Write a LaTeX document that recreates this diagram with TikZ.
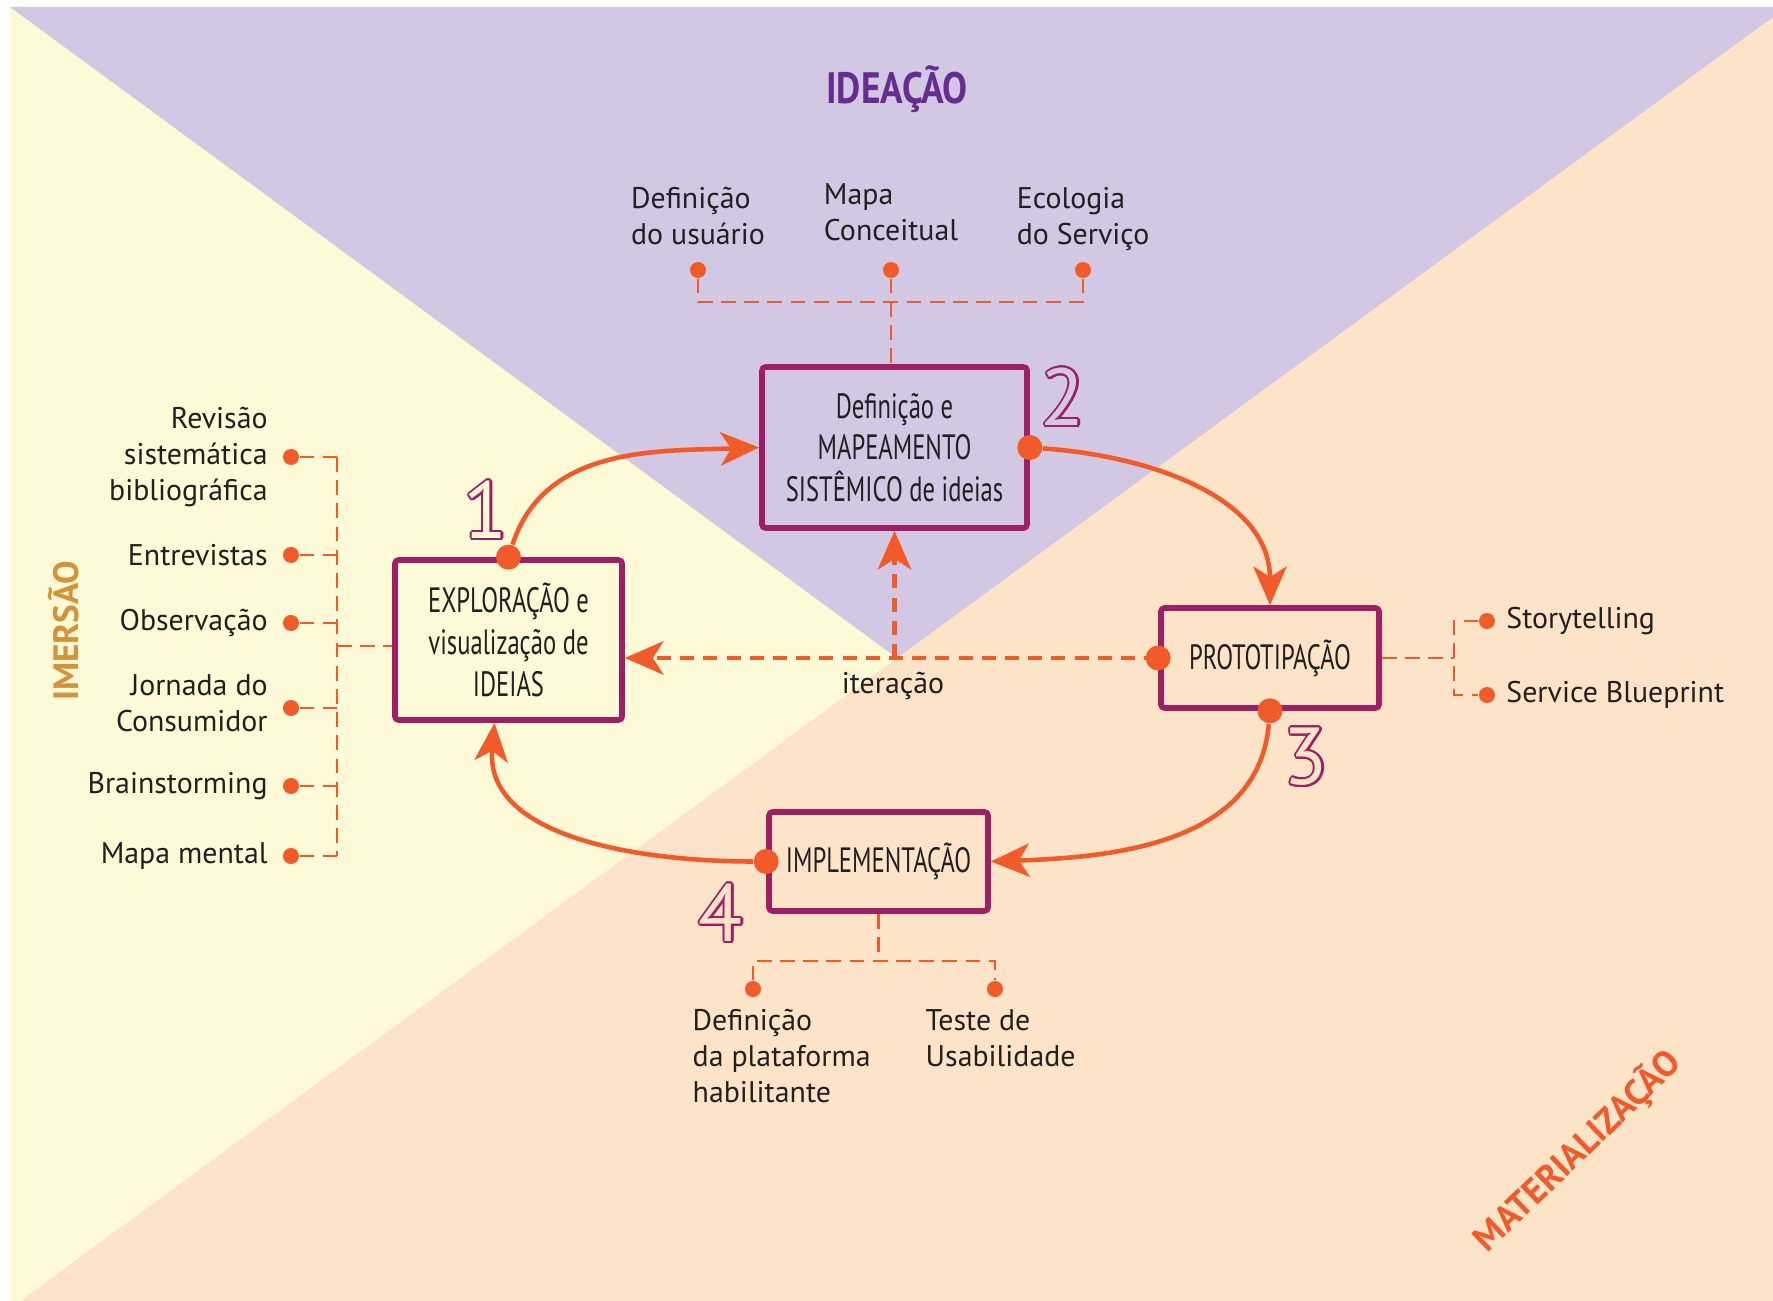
\documentclass[tikz,border=0pt]{standalone}
\usepackage{fontspec}
\setmainfont{PT Sans}
\newfontfamily\narrowfont[FakeStretch=0.7]{PT Sans}
\newfontfamily\titlefont[FakeStretch=0.85]{PT Sans}
\usepackage{contour}
\usetikzlibrary{arrows.meta,positioning}
\definecolor{ideabg}{HTML}{D3C8E3}
\definecolor{imerbg}{HTML}{FEF9D7}
\definecolor{matbg}{HTML}{FDE4C9}
\definecolor{flow}{HTML}{F15A29}
\definecolor{frame}{HTML}{9E1F63}
\definecolor{ideac}{HTML}{662D91}
\definecolor{imerc}{HTML}{D4933B}
\definecolor{ink}{HTML}{231F20}
\contourlength{0.6pt}

\begin{document}
\begin{tikzpicture}[x=0.1mm,y=-0.1mm,>={Stealth[length=11pt,width=9.5pt,inset=3pt]},
stage/.style={draw=frame,line width=1.6pt,rounded corners=1pt,align=center,text=ink,
font=\narrowfont\fontsize{10}{11.9}\selectfont,inner sep=0pt},
hub/.style={circle,fill=flow,minimum size=2.5mm,inner sep=0pt},
dot/.style={circle,fill=flow,minimum size=1.6mm,inner sep=0pt},
item/.style={text=ink,font=\fontsize{8.5}{10.2}\selectfont,inner sep=0pt},
flowline/.style={draw=flow,line width=1.3pt},
iter/.style={flowline,dash pattern=on 4pt off 2.6pt},
link/.style={draw=flow,line width=0.6pt,dash pattern=on 4.2pt off 2.4pt},
num/.style={font=\fontsize{23}{23}\selectfont,inner sep=0pt}]
\useasboundingbox (0,0) rectangle (1773,1301);
% fases
\fill[matbg] (10,7) rectangle (1773,1301);
\fill[imerbg] (10,7) -- (897,658) -- (20,1301) -- (10,1301) -- cycle;
\fill[ideabg] (10,7) -- (1773,7) -- (1773,17) -- (897,658) -- cycle;
\node[text=ideac,font=\titlefont\bfseries\fontsize{12.5}{13}\selectfont] (ideacao) at (897,89) {IDEAÇÃO};
\node[text=imerc,rotate=90,font=\bfseries\fontsize{10}{12}\selectfont] (imersao) at (64,631) {IMERSÃO};
\node[text=flow,rotate=44,font=\bfseries\fontsize{10.2}{12}\selectfont] (materializacao) at (1577,1151) {MATERIALIZAÇÃO};

% etapas
\node[stage,minimum width=22.7mm,minimum height=16mm] (b1) at (508.5,640) {EXPLORAÇÃO e\\visualização de\\IDEIAS};
\node[stage,minimum width=26.5mm,minimum height=16.1mm] (b2) at (894.5,447.5) {Definição e\\MAPEAMENTO\\SISTÊMICO de ideias};
\node[stage,minimum width=21.8mm,minimum height=10mm] (b3) at (1270,658) {PROTOTIPAÇÃO};
\node[stage,minimum width=21.9mm,minimum height=9.9mm] (b4) at (878.5,861.5) {IMPLEMENTAÇÃO};
\node[num] (n1) at (486,511) {\contour{frame}{\textcolor{imerbg}{1}}};
\node[num] (n2) at (1063,398) {\contour{frame}{\textcolor{ideabg}{2}}};
\node[num] (n3) at (1306,758) {\contour{frame}{\textcolor{matbg}{3}}};
\node[num] (n4) at (721,914) {\contour{frame}{\textcolor{matbg}{4}}};

% ciclo
\draw[iter,->] (b3.west) -- (b1.east |- b3.west);
\draw[iter,->] (b2.south |- b3.west) -- (b2.south);
\node[item] (iteracao) at (893,686) {iteração};
\node[hub] (h1) at (b1.north) {};
\node[hub] (h2) at (b2.east) {};
\node[hub] (h3) at (b3.west) {};
\node[hub] (h3b) at (b3.south) {};
\node[hub] (h4) at (b4.west) {};
\draw[flowline,->] (h1) to[out=72,in=182] (b2.west);
\draw[flowline,->] (h2) to[out=-4,in=90] (b3.north);
\draw[flowline,->] (h3b) to[out=-95,in=2] (b4.east);
\draw[flowline,->] (h4) to[out=180,in=-95] ([xshift=-1.4mm]b1.south);

% imersao
\node[dot] (r1) at (291,457) {};
\node[dot] (r2) at (291,555) {};
\node[dot] (r3) at (291,623) {};
\node[dot] (r4) at (291,708) {};
\node[dot] (r5) at (291,786) {};
\node[dot] (r6) at (291,856) {};
\node[item,align=right,left=1.4mm of r1] (rev) {Revisão\\sistemática\\bibliográfica};
\node[item,left=1.4mm of r2] (ent) {Entrevistas};
\node[item,left=1.4mm of r3] (obs) {Observação};
\node[item,align=right,left=1.4mm of r4,yshift=0.5mm] (jor) {Jornada do\\Consumidor};
\node[item,left=1.4mm of r5] (bra) {Brainstorming};
\node[item,left=1.4mm of r6] (mme) {Mapa mental};
\coordinate (lbus) at (337,646);
\foreach \r in {r1,r2,r3,r4,r5,r6}
  \draw[link] (\r) -- (\r -| lbus);
\draw[link] (r1 -| lbus) -- (r6 -| lbus);
\draw[link] (lbus) -- (b1.west |- lbus);

% ideacao
\node[dot] (t1) at (698,270) {};
\node[dot] (t2) at (891,270) {};
\node[dot] (t3) at (1083,270) {};
\node[item,align=left,above=1.6mm of t1] (usu) {Definição\\do usuário};
\node[item,align=left,above=2mm of t2] (mca) {Mapa\\Conceitual};
\node[item,align=left,above=1mm of t3] (eco) {Ecologia\\do Serviço};
\coordinate (tbus) at (891,302);
\draw[link] (t1) -- (t1 |- tbus) -- (t3 |- tbus) -- (t3);
\draw[link] (t2) -- (t2 |- b2.north);

% prototipacao
\node[dot] (s1) at (1487,621) {};
\node[dot] (s2) at (1487,695) {};
\node[item,right=1mm of s1] (sto) {Storytelling};
\node[item,right=1mm of s2] (blu) {Service Blueprint};
\coordinate (rbus) at (1454,658);
\draw[link] (b3.east) -- (rbus);
\draw[link] (s1) -- (s1 -| rbus) -- (s2 -| rbus) -- (s2);

% implementacao
\node[dot] (d1) at (753,989) {};
\node[dot] (d2) at (995,989) {};
\node[item,align=left,anchor=west] (pla) at (692,1056) {Definição\\da plataforma\\habilitante};
\node[item,align=left,anchor=west] (tes) at (925,1038) {Teste de\\Usabilidade};
\coordinate (bbus) at (878.5,961);
\draw[link] (b4.south) -- (bbus);
\draw[link] (d1) -- (d1 |- bbus) -- (d2 |- bbus) -- (d2);
\end{tikzpicture}
\end{document}
